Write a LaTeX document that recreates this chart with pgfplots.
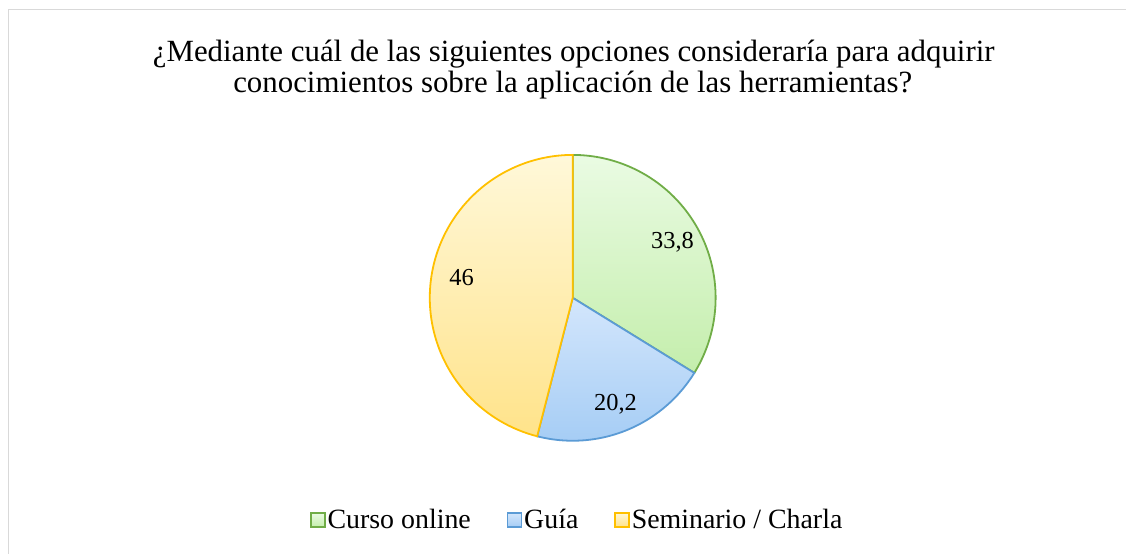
\documentclass[border=0pt]{standalone}
\usepackage{pgfplots}
\pgfplotsset{compat=1.18}
\usepackage{fontspec}
\setmainfont{Liberation Serif}

\definecolor{cursoline}{HTML}{70AD47}
\definecolor{cursotop}{HTML}{EAFBE3}
\definecolor{cursobot}{HTML}{C4EEAC}
\definecolor{guialine}{HTML}{5B9BD5}
\definecolor{guiatop}{HTML}{D3E6FC}
\definecolor{guiabot}{HTML}{A6CDF5}
\definecolor{semline}{HTML}{FFC000}
\definecolor{semtop}{HTML}{FFF8D9}
\definecolor{sembot}{HTML}{FFE38A}

% porcentajes
\def\vA{33.8}
\def\vB{20.2}
\def\vC{46}

\begin{document}
\begin{tikzpicture}[x=1bp,y=1bp]
\path (0,0) rectangle (1127,554);
\draw[color=black!15, line width=1.2bp] (8.5,0) -- (8.5,544.5) -- (1127,544.5);

\node[font=\fontsize{31}{33}\selectfont, anchor=base, inner sep=0pt] at (574,492)
  {¿Mediante cuál de las siguientes opciones consideraría para adquirir};
\node[font=\fontsize{31}{33}\selectfont, anchor=base, inner sep=0pt] at (573,461)
  {conocimientos sobre la aplicación de las herramientas?};

\pgfmathsetmacro\aA{90}
\pgfmathsetmacro\aB{90-3.6*\vA}
\pgfmathsetmacro\aC{\aB-3.6*\vB}
\pgfmathsetmacro\aD{\aC-3.6*\vC}

\begin{axis}[
    at={(573bp,256bp)}, anchor=center,
    scale only axis, width=286bp, height=286bp,
    xmin=-1, xmax=1, ymin=-1, ymax=1,
    hide axis, clip=false,
    legend columns=3,
    legend cell align=left,
    legend style={at={(axis description cs:0.516,-0.277)}, anchor=center,
        draw=none, fill=none, font=\fontsize{28}{30}\selectfont,
        /tikz/every even column/.append style={column sep=34bp}},
    legend image code/.code={\draw[#1, line width=1.4bp] (0bp,-7bp) rectangle (14bp,7bp);},
]
\addplot[draw=cursoline, line width=1.8bp, top color=cursotop, bottom color=cursobot,
    domain=\aB:\aA, samples=90] ({cos(x)},{sin(x)}) -- (axis cs:0,0) -- cycle;
\addlegendentry{Curso online}
\addplot[draw=guialine, line width=1.8bp, top color=guiatop, bottom color=guiabot,
    domain=\aC:\aB, samples=60] ({cos(x)},{sin(x)}) -- (axis cs:0,0) -- cycle;
\addlegendentry{Guía}
\addplot[draw=semline, line width=1.8bp, top color=semtop, bottom color=sembot,
    domain=\aD:\aC, samples=120] ({cos(x)},{sin(x)}) -- (axis cs:0,0) -- cycle;
\addlegendentry{Seminario / Charla}

\node[font=\fontsize{24.5}{26}\selectfont] at (axis cs:{0.8*cos((\aA+\aB)/2)},{0.8*sin((\aA+\aB)/2)}) {33,8};
\node[font=\fontsize{24.5}{26}\selectfont] at (axis cs:{0.8*cos((\aB+\aC)/2)},{0.8*sin((\aB+\aC)/2)}) {20,2};
\node[font=\fontsize{24.5}{26}\selectfont] at (axis cs:{0.79*cos((\aC+\aD)/2-3)},{0.79*sin((\aC+\aD)/2-3)}) {46};
\end{axis}
\end{tikzpicture}
\end{document}
